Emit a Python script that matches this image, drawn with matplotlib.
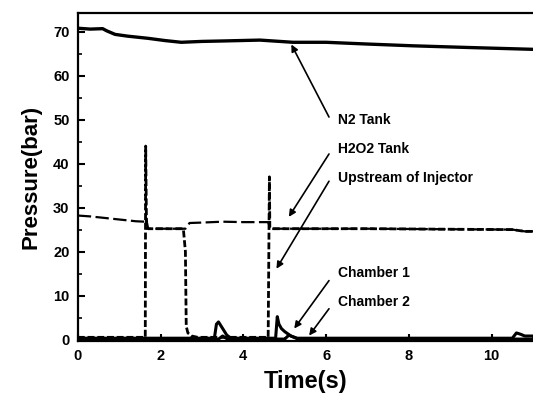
import matplotlib.pyplot as plt
from matplotlib.ticker import MultipleLocator

plt.rcParams['font.family'] = ['Liberation Sans', 'DejaVu Sans']
plt.rcParams['font.weight'] = 'bold'

# pressure traces (time in s, pressure in bar)
t_n2 = [0, 0.3, 0.6, 0.7, 0.9, 1.2, 1.7, 2.1, 2.5, 3.0, 3.5, 4.4, 5.2, 6.0, 7.0, 8.1, 9.5, 11]
p_n2 = [70.8, 70.6, 70.7, 70.2, 69.4, 69.0, 68.5, 68.0, 67.6, 67.8, 67.9, 68.1, 67.6, 67.6, 67.2, 66.8, 66.4, 66.0]

t_h2o2 = [0, 0.3, 0.7, 1.0, 1.4, 1.62, 1.65, 1.7, 2.6, 2.7, 3.0, 3.5, 4.0, 4.6, 4.65, 4.7, 7.0, 10.5, 10.8, 11]
p_h2o2 = [28.2, 28.0, 27.6, 27.3, 26.9, 26.8, 27.6, 25.2, 25.2, 26.5, 26.6, 26.8, 26.7, 26.7, 25.3, 25.2, 25.2, 25.0, 24.6, 24.6]

t_inj = [0, 1.63, 1.64, 1.66, 1.7, 2.55, 2.6, 2.62, 2.66, 2.75, 2.9, 3.5, 4.6, 4.63, 4.64, 4.67, 4.7, 7.0, 10.5, 10.8, 11]
p_inj = [0.5, 0.5, 44, 25.5, 25.2, 25.2, 20, 3, 1.5, 0.8, 0.5, 0.5, 0.5, 37, 25.5, 25.3, 25.2, 25.2, 25.0, 24.6, 24.6]

t_ch1 = [0, 3.3, 3.35, 3.4, 3.5, 3.6, 3.7, 4.78, 4.82, 4.86, 4.92, 5.0, 5.15, 5.3, 10.5, 10.6, 10.7, 10.8, 11]
p_ch1 = [0.3, 0.3, 3.5, 4.0, 2.5, 1.0, 0.3, 0.3, 5.2, 3.5, 2.5, 1.8, 0.8, 0.3, 0.3, 1.5, 1.2, 0.8, 0.8]

t_ch2 = [0, 3.4, 3.5, 3.6, 5.0, 5.1, 5.3, 11]
p_ch2 = [0.1, 0.1, 0.8, 0.2, 0.1, 1.0, 0.2, 0.1]

# annotations: label, text position, arrow tail, arrow tip
labels = ['N2 Tank', 'H2O2 Tank', 'Upstream of Injector', 'Chamber 1', 'Chamber 2']
label_pos = [(6.29, 50.0), (6.29, 43.3), (6.29, 36.8), (6.29, 15.1), (6.29, 8.5)]
arrow_tail = [(6.07, 50.6), (6.07, 42.2), (6.07, 36.0), (6.07, 13.4), (6.07, 7.0)]
arrow_tip = [(5.16, 67.1), (5.1, 27.9), (4.8, 16.1), (5.23, 2.5), (5.59, 0.9)]

fig = plt.figure(figsize=(5.33, 4.01), dpi=100)
ax = fig.add_axes([0.146, 0.150, 0.854, 0.818])

ax.plot(t_n2, p_n2, color='black', lw=2.4)
ax.plot(t_h2o2, p_h2o2, color='black', lw=1.6, linestyle=(0, (6, 2)))
ax.plot(t_inj, p_inj, color='black', lw=2.0, linestyle=(0, (2.5, 1)))
ax.plot(t_ch1, p_ch1, color='black', lw=2.2)
ax.plot(t_ch2, p_ch2, color='black', lw=2.2)

for lab, pos, tail, tip in zip(labels, label_pos, arrow_tail, arrow_tip):
    ax.text(pos[0], pos[1], lab, fontsize=10, fontweight='bold', va='center', ha='left')
    ax.annotate('', xy=tip, xytext=tail,
                arrowprops=dict(arrowstyle='-|>', lw=1.2, color='black',
                                mutation_scale=10, shrinkA=0, shrinkB=0))

ax.set_xlim(0, 11)
ax.set_ylim(-0.3, 74.3)
ax.xaxis.set_major_locator(MultipleLocator(2))
ax.xaxis.set_minor_locator(MultipleLocator(1))
ax.yaxis.set_major_locator(MultipleLocator(10))
ax.yaxis.set_minor_locator(MultipleLocator(5))
ax.tick_params(which='major', direction='in', length=5, width=1.5, labelsize=10.5, pad=6)
ax.tick_params(which='minor', direction='in', length=3, width=1.2)
ax.tick_params(top=False, right=False, which='both')
for lbl in ax.get_xticklabels() + ax.get_yticklabels():
    lbl.set_fontweight('bold')

for side in ['left', 'bottom', 'top']:
    ax.spines[side].set_linewidth(1.6)
ax.spines['right'].set_visible(False)

ax.set_xlabel('Time(s)', fontsize=17, fontweight='bold', labelpad=5)
ax.set_ylabel('Pressure(bar)', fontsize=16, fontweight='bold', labelpad=8)

fig.savefig('out.png', dpi=100)
